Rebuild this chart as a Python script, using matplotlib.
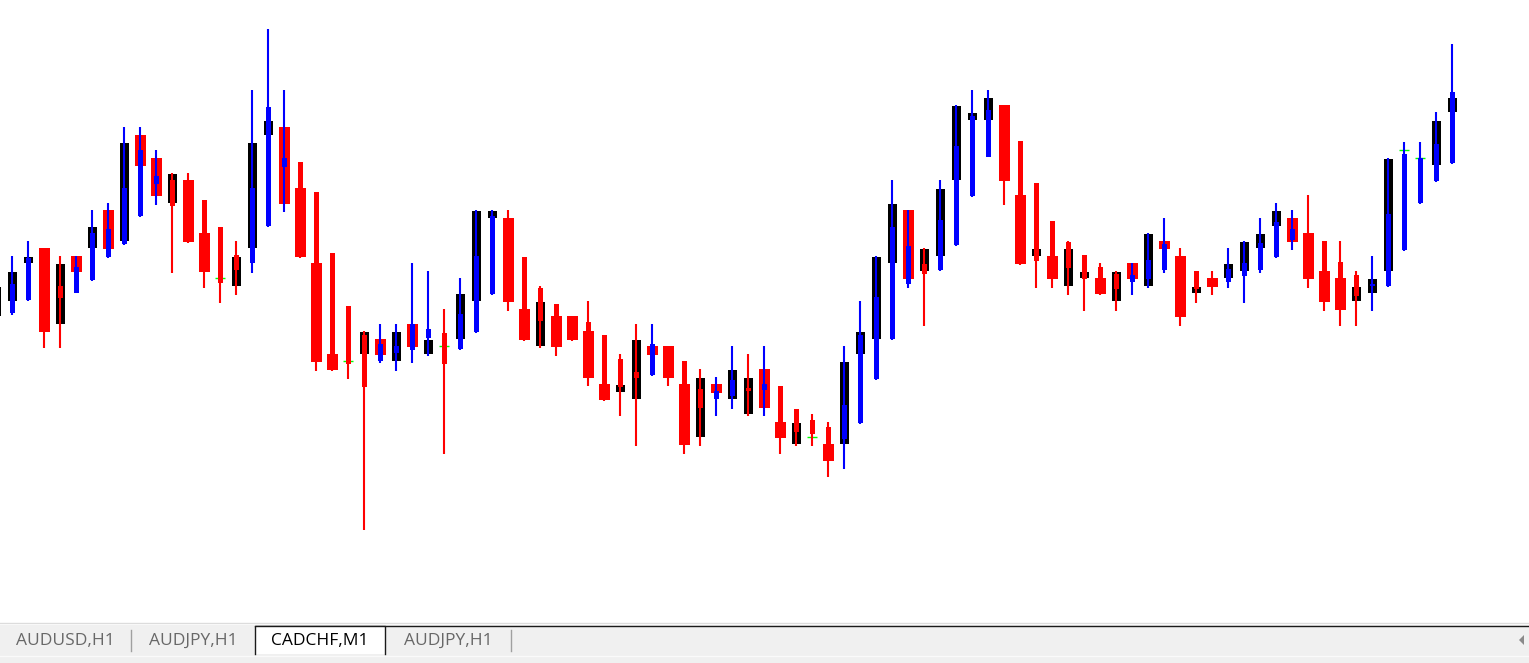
import matplotlib
matplotlib.use('Agg')
import matplotlib.pyplot as plt
from matplotlib.patches import Rectangle, Polygon
import numpy as np

# CADCHF, M1 - chart candles (bodies only)
opens = [0.65084, 0.65099, 0.65137, 0.65152, 0.65076, 0.65144, 0.65152, 0.65190, 0.65159, 0.65265,
         0.65242, 0.65197, 0.65220, 0.65167, 0.65122, 0.65114, 0.65152, 0.65265, 0.65273, 0.65212,
         0.65137, 0.65046, 0.65039, 0.65046, 0.65061, 0.65039, 0.65076, 0.65046, 0.65054, 0.65061,
         0.65099, 0.65182, 0.65182, 0.65091, 0.65054, 0.65084, 0.65084, 0.65069, 0.65016, 0.65008,
         0.65001, 0.65054, 0.65054, 0.65016, 0.64963, 0.65016, 0.65001, 0.64986, 0.65031, 0.64978,
         0.64956, 0.64963, 0.64956, 0.64956, 0.65046, 0.65061, 0.65137, 0.65190, 0.65129, 0.65144,
         0.65220, 0.65280, 0.65280, 0.65295, 0.65205, 0.65144, 0.65144, 0.65114, 0.65122, 0.65122,
         0.65099, 0.65137, 0.65114, 0.65159, 0.65144, 0.65107, 0.65122, 0.65122, 0.65129, 0.65152,
         0.65174, 0.65182, 0.65167, 0.65129, 0.65122, 0.65099, 0.65107, 0.65129, 0.65250, 0.65242,
         0.65235, 0.65288]
closes = [0.65113, 0.65128, 0.65143, 0.65068, 0.65136, 0.65128, 0.65173, 0.65151, 0.65257, 0.65234,
          0.65204, 0.65226, 0.65158, 0.65128, 0.65122, 0.65143, 0.65257, 0.65279, 0.65196, 0.65143,
          0.65038, 0.65030, 0.65039, 0.65068, 0.65045, 0.65068, 0.65053, 0.65060, 0.65054, 0.65106,
          0.65189, 0.65189, 0.65098, 0.65060, 0.65098, 0.65053, 0.65060, 0.65022, 0.65000, 0.65015,
          0.65060, 0.65045, 0.65022, 0.64955, 0.65022, 0.65007, 0.65030, 0.65022, 0.64992, 0.64962,
          0.64977, 0.64963, 0.64939, 0.65038, 0.65068, 0.65143, 0.65196, 0.65121, 0.65151, 0.65211,
          0.65294, 0.65287, 0.65302, 0.65219, 0.65136, 0.65151, 0.65121, 0.65151, 0.65128, 0.65106,
          0.65128, 0.65121, 0.65166, 0.65151, 0.65083, 0.65113, 0.65113, 0.65136, 0.65158, 0.65166,
          0.65189, 0.65158, 0.65121, 0.65098, 0.65090, 0.65113, 0.65121, 0.65241, 0.65250, 0.65242,
          0.65279, 0.65302]

# Heiken Ashi overlay
ha_open = [0.65090, 0.65087, 0.65100, 0.65130, 0.65114, 0.65107, 0.65120, 0.65143, 0.65156, 0.65184,
           0.65216, 0.65220, 0.65215, 0.65200, 0.65173, 0.65145, 0.65137, 0.65174, 0.65233, 0.65238,
           0.65208, 0.65147, 0.65094, 0.65065, 0.65039, 0.65047, 0.65050, 0.65062, 0.65067, 0.65051,
           0.65068, 0.65106, 0.65178, 0.65143, 0.65112, 0.65096, 0.65082, 0.65078, 0.65065, 0.65041,
           0.65028, 0.65025, 0.65050, 0.65039, 0.65011, 0.65001, 0.65004, 0.65012, 0.65010, 0.65014,
           0.64991, 0.64980, 0.64973, 0.64961, 0.64977, 0.65021, 0.65061, 0.65116, 0.65136, 0.65130,
           0.65155, 0.65204, 0.65243, 0.65290, 0.65259, 0.65217, 0.65179, 0.65158, 0.65145, 0.65133,
           0.65126, 0.65118, 0.65121, 0.65130, 0.65140, 0.65129, 0.65121, 0.65118, 0.65124, 0.65130,
           0.65143, 0.65160, 0.65164, 0.65159, 0.65138, 0.65125, 0.65114, 0.65114, 0.65150, 0.65197,
           0.65219, 0.65237]
ha_close = [0.65110, 0.65116, 0.65142, 0.65080, 0.65102, 0.65133, 0.65167, 0.65171, 0.65212, 0.65250,
            0.65224, 0.65194, 0.65162, 0.65150, 0.65117, 0.65130, 0.65212, 0.65293, 0.65242, 0.65180,
            0.65100, 0.65040, 0.65036, 0.65013, 0.65056, 0.65054, 0.65076, 0.65071, 0.65036, 0.65086,
            0.65144, 0.65184, 0.65102, 0.65080, 0.65079, 0.65070, 0.65062, 0.65040, 0.65010, 0.65013,
            0.65022, 0.65056, 0.65025, 0.64980, 0.64992, 0.65009, 0.65020, 0.65009, 0.65016, 0.64970,
            0.64968, 0.64966, 0.64945, 0.64995, 0.65065, 0.65103, 0.65173, 0.65154, 0.65126, 0.65180,
            0.65254, 0.65284, 0.65290, 0.65222, 0.65170, 0.65139, 0.65130, 0.65132, 0.65121, 0.65115,
            0.65111, 0.65125, 0.65140, 0.65156, 0.65088, 0.65111, 0.65114, 0.65131, 0.65137, 0.65157,
            0.65178, 0.65171, 0.65124, 0.65110, 0.65100, 0.65104, 0.65116, 0.65186, 0.65246, 0.65242,
            0.65256, 0.65308]
ha_high = [0.65120, 0.65144, 0.65159, 0.65152, 0.65144, 0.65144, 0.65190, 0.65197, 0.65273, 0.65273,
           0.65250, 0.65227, 0.65227, 0.65200, 0.65173, 0.65159, 0.65310, 0.65371, 0.65310, 0.65238,
           0.65208, 0.65147, 0.65094, 0.65069, 0.65076, 0.65076, 0.65137, 0.65129, 0.65091, 0.65122,
           0.65190, 0.65190, 0.65190, 0.65143, 0.65114, 0.65096, 0.65084, 0.65099, 0.65065, 0.65046,
           0.65076, 0.65076, 0.65054, 0.65039, 0.65031, 0.65023, 0.65054, 0.65046, 0.65054, 0.65014,
           0.64991, 0.64986, 0.64978, 0.65054, 0.65099, 0.65144, 0.65220, 0.65190, 0.65152, 0.65220,
           0.65295, 0.65310, 0.65310, 0.65295, 0.65259, 0.65217, 0.65179, 0.65159, 0.65145, 0.65137,
           0.65129, 0.65137, 0.65167, 0.65182, 0.65152, 0.65129, 0.65129, 0.65152, 0.65159, 0.65182,
           0.65197, 0.65190, 0.65205, 0.65159, 0.65159, 0.65129, 0.65144, 0.65242, 0.65258, 0.65258,
           0.65288, 0.65356]
ha_low = [0.65082, 0.65085, 0.65099, 0.65052, 0.65052, 0.65107, 0.65119, 0.65142, 0.65155, 0.65183,
          0.65195, 0.65127, 0.65157, 0.65112, 0.65097, 0.65105, 0.65127, 0.65173, 0.65188, 0.65142,
          0.65029, 0.65029, 0.65021, 0.64870, 0.65037, 0.65029, 0.65037, 0.65044, 0.64946, 0.65050,
          0.65067, 0.65105, 0.65089, 0.65059, 0.65052, 0.65044, 0.65059, 0.65014, 0.64999, 0.64984,
          0.64954, 0.65024, 0.65014, 0.64946, 0.64954, 0.64984, 0.64991, 0.64984, 0.64984, 0.64946,
          0.64954, 0.64954, 0.64923, 0.64931, 0.64976, 0.65020, 0.65060, 0.65112, 0.65074, 0.65129,
          0.65154, 0.65203, 0.65243, 0.65195, 0.65135, 0.65112, 0.65112, 0.65105, 0.65089, 0.65105,
          0.65089, 0.65105, 0.65112, 0.65127, 0.65074, 0.65097, 0.65105, 0.65112, 0.65097, 0.65127,
          0.65142, 0.65150, 0.65112, 0.65089, 0.65074, 0.65074, 0.65089, 0.65113, 0.65149, 0.65196,
          0.65218, 0.65236]

tabs = ['AUDUSD,H1', 'AUDJPY,H1', 'CADCHF,M1', 'AUDJPY,H1']
active_tab = 2

W, H = 1529, 663
fig = plt.figure(figsize=(W / 100, H / 100), dpi=100)
fig.patch.set_facecolor('white')

# chart area
bar_h = 43
ax = fig.add_axes([0, bar_h / H, 1, (H - bar_h) / H])
ax.set_facecolor('white')
ax.axis('off')

o = np.array(opens)
c = np.array(closes)
ho = np.array(ha_open)
hc = np.array(ha_close)
hh = np.array(ha_high)
hl = np.array(ha_low)
x = np.arange(len(o))

bull = c > o
bear = c < o
doji = c == o
ax.bar(x[bull], (c - o)[bull], bottom=o[bull], width=0.5625, color='black', linewidth=0, zorder=2)
ax.bar(x[bear], (o - c)[bear], bottom=c[bear], width=0.6875, color='red', linewidth=0, zorder=2)
ax.hlines(o[doji], x[doji] - 0.34, x[doji] + 0.34, color='#00ff00', lw=1.0, zorder=2)

ha_cols = np.where(hc >= ho, 'blue', 'red')
ax.vlines(x, hl, hh, colors=ha_cols, lw=1.5, zorder=3)
ax.bar(x, np.abs(hc - ho), bottom=np.minimum(ho, hc), width=0.3125, color=ha_cols,
       linewidth=0, zorder=4)

ax.set_xlim(0.25, (W + 4) / 16)
ax.set_ylim(0.654 - (H - bar_h) / 1e5, 0.654)

# tab strip at the bottom
tb = fig.add_axes([0, 0, 1, bar_h / H])
tb.set_xlim(0, W)
tb.set_ylim(H, H - bar_h)
tb.axis('off')
tb.add_patch(Rectangle((0, 625), W, H - 625, facecolor='#f0f0f0', edgecolor='none'))
tb.plot([0, W], [623, 623], color='#dcdcdc', lw=1)
tb.plot([255, W], [625.5, 625.5], color='#1a1a1a', lw=1)
tb.plot([0, W], [656, 656], color='#fafafa', lw=1)

tab_left = [0, 131, 255, 385]
tab_right = [131, 255, 385, 511]
for i, name in enumerate(tabs):
    l, r = tab_left[i], tab_right[i]
    if i == active_tab:
        tb.add_patch(Rectangle((l, 625.5), r - l, 28.5, facecolor='white',
                               edgecolor='none', zorder=2))
        tb.plot([l, l, r, r], [654, 625.5, 625.5, 654], color='#1a1a1a', lw=1, zorder=3)
        col = '#000000'
    else:
        col = '#686868'
        if i + 1 != active_tab:
            tb.plot([r, r], [630, 651], color='#a0a0a0', lw=1)
    tb.text((l + r) / 2, 641, name, ha='center', va='center', fontsize=12.5,
            family='Open Sans', color=col, zorder=4)

tb.add_patch(Polygon([[1519, 640], [1524, 635], [1524, 645]], closed=True,
                     facecolor='#8a8a8a', edgecolor='none'))

fig.savefig('out.png', dpi=100)
